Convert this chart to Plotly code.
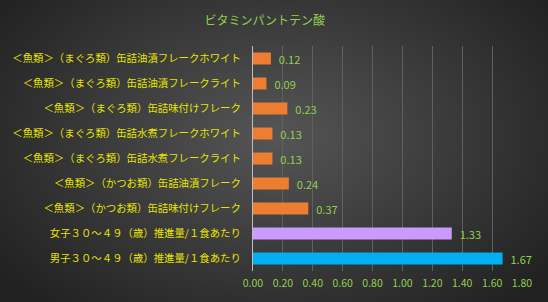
import base64, zlib, struct
import numpy as np
import plotly.graph_objects as go

title = "ビタミンパントテン酸"
categories = [
    "＜魚類＞（まぐろ類）缶詰油漬フレークホワイト",
    "＜魚類＞（まぐろ類）缶詰油漬フレークライト",
    "＜魚類＞（まぐろ類）缶詰味付けフレーク",
    "＜魚類＞（まぐろ類）缶詰水煮フレークホワイト",
    "＜魚類＞（まぐろ類）缶詰水煮フレークライト",
    "＜魚類＞（かつお類）缶詰油漬フレーク",
    "＜魚類＞（かつお類）缶詰味付けフレーク",
    "女子３０～４９（歳）推進量/１食あたり",
    "男子３０～４９（歳）推進量/１食あたり",
]
values = [0.12, 0.09, 0.23, 0.13, 0.13, 0.24, 0.37, 1.33, 1.67]
bar_colors = ["#ED7D31"] * 7 + ["#CC99FF", "#00B0F0"]

W, H = 548, 302
L, R, T, B = 253, 26, 46, 31

# radial gradient background as PNG
yy, xx = np.mgrid[0:H, 0:W]
cx, cy = W * 0.5, H * 0.45
d = np.sqrt(((xx - cx) / (W * 0.62)) ** 2 + ((yy - cy) / (H * 0.75)) ** 2)
d = np.clip(d, 0, 1)
img = (86 - (86 - 34) * d).astype(np.uint8)
raw = b"".join(b"\x00" + img[r].tobytes() for r in range(H))
def chunk(t, data):
    c = struct.pack(">I", len(data)) + t + data
    return c + struct.pack(">I", zlib.crc32(t + data) & 0xffffffff)
png = b"\x89PNG\r\n\x1a\n" + chunk(b"IHDR", struct.pack(">IIBBBBB", W, H, 8, 0, 0, 0, 0)) \
    + chunk(b"IDAT", zlib.compress(raw, 9)) + chunk(b"IEND", b"")
uri = "data:image/png;base64," + base64.b64encode(png).decode()

pw, ph = W - L - R, H - T - B

fig = go.Figure()
fig.add_trace(go.Bar(
    y=categories, x=values, orientation="h",
    marker=dict(color=bar_colors, line=dict(width=0)),
    width=0.48,
    text=[f"\u00a0\u00a0{v:.2f}" for v in values], textposition="outside",
    constraintext="none",
    textfont=dict(color="#92D050", size=11, family="Noto Sans CJK JP"),
    cliponaxis=False,
))
fig.update_layout(
    width=W, height=H,
    margin=dict(l=L, r=R, t=T, b=B),
    paper_bgcolor="#3a3a3a", plot_bgcolor="rgba(0,0,0,0)",
    showlegend=False,
    title=dict(text=title, x=0.483, xanchor="center", y=0.93, yanchor="middle",
               font=dict(color="#92D050", size=12, family="Noto Sans CJK JP")),
    images=[dict(source=uri, xref="paper", yref="paper",
                 x=-L / pw, y=1 + T / ph, sizex=W / pw, sizey=H / ph,
                 xanchor="left", yanchor="top", sizing="stretch", layer="below")],
    xaxis=dict(range=[0, 1.8], dtick=0.2, tickformat=".2f",
               showgrid=True, gridcolor="#606060", gridwidth=1, zeroline=False,
               tickfont=dict(color="#92D050", size=10.5, family="Noto Sans CJK JP"),
               ticks="", showline=False, automargin=False, ticklabelstandoff=4),
    yaxis=dict(autorange="reversed", ticks="", ticklabelstandoff=9, automargin=False,
               tickfont=dict(color="#E6E600", size=10.4, family="Noto Sans CJK JP"),
               showline=True, linecolor="#BFBFBF", linewidth=1, showgrid=False),
    bargap=0.52,
    font=dict(family="Noto Sans CJK JP"),
)
fig.write_html("out.html")
